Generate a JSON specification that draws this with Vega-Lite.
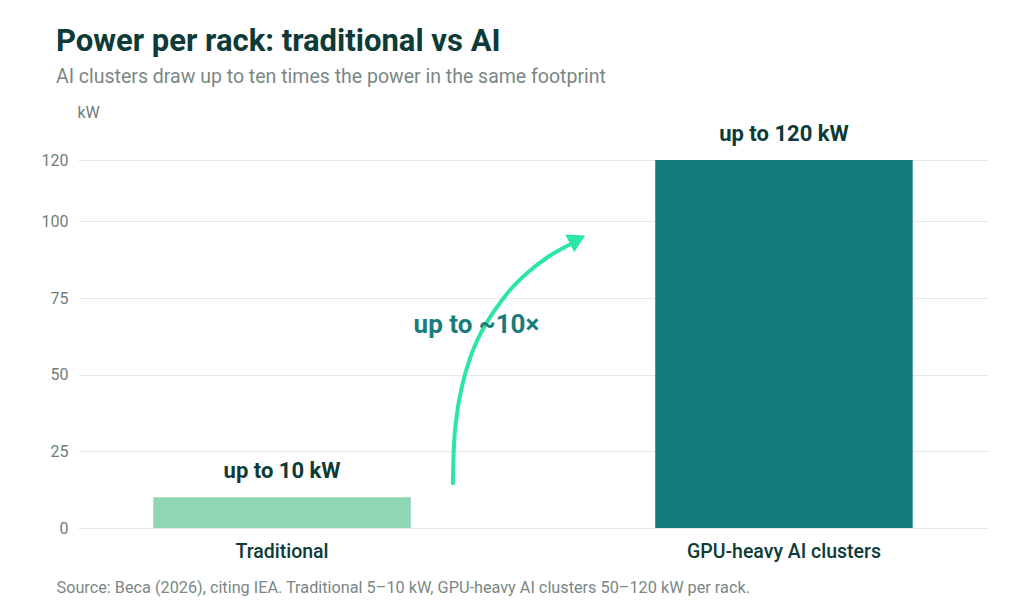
{
  "$schema": "https://vega.github.io/schema/vega-lite/v6.json",
  "width": 910,
  "height": 368,
  "autosize": {"type": "none"},
  "padding": {"left": 78, "top": 160, "right": 36, "bottom": 86},
  "background": "white",
  "config": {
    "font": "Roboto",
    "view": {"stroke": null}
  },
  "title": {
    "text": "Power per rack: traditional vs AI",
    "subtitle": "AI clusters draw up to ten times the power in the same footprint",
    "anchor": "start",
    "frame": "group",
    "dx": -22,
    "fontSize": 31,
    "fontWeight": "bold",
    "color": "#0d3b37",
    "subtitleFontSize": 19.5,
    "subtitleColor": "#7a8785",
    "subtitlePadding": 10,
    "offset": 17
  },
  "datasets": {
    "racks": [
      {"rack": "Traditional", "kw": 10, "label": "up to 10 kW"},
      {"rack": "GPU-heavy AI clusters", "kw": 120, "label": "up to 120 kW"}
    ],
    "arrow": [
      {"step": 0, "pos": 0.342, "kw": 14.6},
      {"step": 1, "pos": 0.344, "kw": 26.2},
      {"step": 2, "pos": 0.350, "kw": 36.9},
      {"step": 3, "pos": 0.361, "kw": 46.7},
      {"step": 4, "pos": 0.377, "kw": 55.7},
      {"step": 5, "pos": 0.399, "kw": 64.0},
      {"step": 6, "pos": 0.427, "kw": 71.4},
      {"step": 7, "pos": 0.458, "kw": 78.0},
      {"step": 8, "pos": 0.494, "kw": 83.7},
      {"step": 9, "pos": 0.534, "kw": 88.7},
      {"step": 10, "pos": 0.579, "kw": 92.8}
    ],
    "arrowHead": [{"pos": 0.590, "kw": 94.1}],
    "ratio": [{"pos": 0.389, "kw": 66.1, "note": "up to ~10×"}]
  },
  "layer": [
    {
      "data": {"name": "racks"},
      "encoding": {
        "x": {
          "field": "rack",
          "type": "nominal",
          "sort": null,
          "scale": {"paddingInner": 0.487, "paddingOuter": 0.15},
          "axis": {
            "title": "Source: Beca (2026), citing IEA. Traditional 5–10 kW, GPU-heavy AI clusters 50–120 kW per rack.",
            "titleFontSize": 16.25,
            "titleFontWeight": "normal",
            "titleColor": "#7a8785",
            "titleAlign": "left",
            "titleBaseline": "middle",
            "titleAnchor": "start",
            "titleX": -22,
            "titleY": 59,
            "labelAngle": 0,
            "labelFontSize": 19.5,
            "labelFontWeight": 500,
            "labelColor": "#0d3b37",
            "labelPadding": 14,
            "labelLimit": 400,
            "domain": false,
            "ticks": false,
            "grid": false
          }
        },
        "y": {
          "field": "kw",
          "type": "quantitative",
          "scale": {"domain": [0, 120], "nice": false},
          "axis": {
            "title": "kW",
            "titleAngle": 0,
            "titleAlign": "left",
            "titleBaseline": "middle",
            "titleX": -1,
            "titleY": -48,
            "titleFontSize": 16,
            "titleFontWeight": "normal",
            "titleColor": "#6f7d7b",
            "values": [0, 25, 50, 75, 100, 120],
            "labelFontSize": 16,
            "labelColor": "#6f7d7b",
            "labelPadding": 10,
            "domain": false,
            "ticks": false,
            "grid": true,
            "gridColor": "#e4eae9",
            "gridWidth": 1
          }
        }
      },
      "layer": [
        {
          "mark": {"type": "bar"},
          "encoding": {
            "color": {
              "field": "rack",
              "type": "nominal",
              "scale": {
                "domain": ["Traditional", "GPU-heavy AI clusters"],
                "range": ["#8fd6b4", "#137d7d"]
              },
              "legend": null
            }
          }
        },
        {
          "mark": {
            "type": "text",
            "baseline": "middle",
            "dy": -26,
            "fontSize": 22,
            "fontWeight": "bold",
            "color": "#0d3b37"
          },
          "encoding": {"text": {"field": "label"}}
        }
      ]
    },
    {
      "encoding": {
        "x": {
          "field": "pos",
          "type": "quantitative",
          "scale": {"domain": [-0.404, 1.407], "nice": false, "zero": false},
          "axis": null
        },
        "y": {"field": "kw", "type": "quantitative"}
      },
      "layer": [
        {
          "data": {"name": "arrow"},
          "mark": {
            "type": "line",
            "interpolate": "monotone",
            "strokeWidth": 4,
            "strokeCap": "round",
            "color": "#2de6a3"
          },
          "encoding": {"order": {"field": "step", "type": "quantitative"}}
        },
        {
          "data": {"name": "arrowHead"},
          "mark": {
            "type": "point",
            "shape": "triangle-up",
            "filled": true,
            "opacity": 1,
            "size": 400,
            "angle": 63,
            "color": "#2de6a3"
          }
        },
        {
          "data": {"name": "ratio"},
          "mark": {
            "type": "text",
            "baseline": "middle",
            "align": "center",
            "fontSize": 26,
            "fontWeight": "bold",
            "color": "#1b7c7c"
          },
          "encoding": {"text": {"field": "note"}}
        }
      ]
    }
  ],
  "resolve": {"scale": {"x": "independent"}}
}
